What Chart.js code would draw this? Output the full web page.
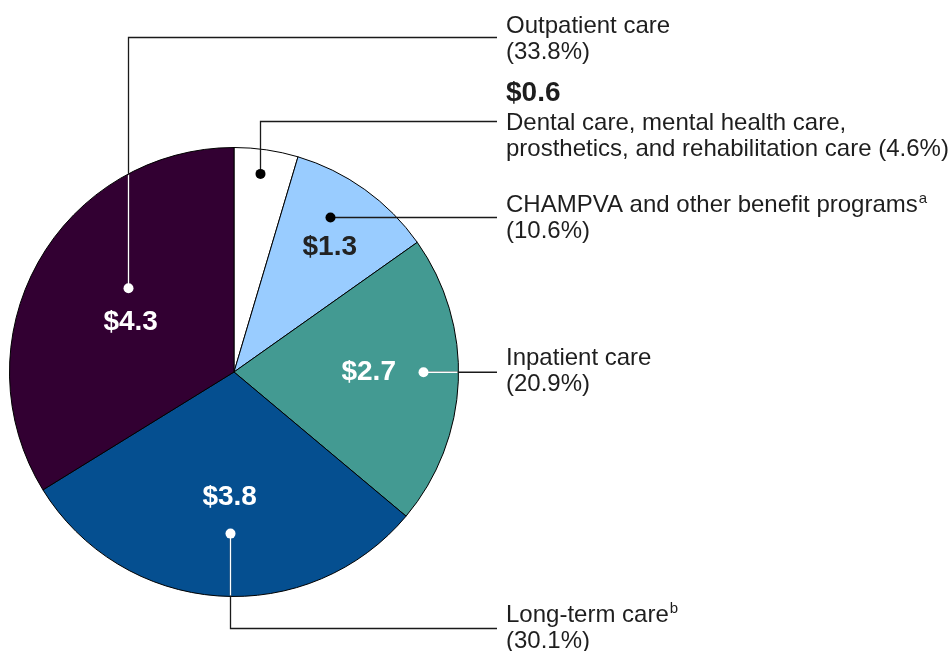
<!DOCTYPE html>
<html>
<head>
<meta charset="utf-8">
<script src="https://cdn.jsdelivr.net/npm/chart.js@4/dist/chart.umd.min.js"></script>
<style>
  html, body { margin: 0; padding: 0; background: #ffffff; }
  #wrap { width: 951px; height: 651px; position: relative; }
</style>
</head>
<body>
<div id="wrap"><canvas id="pieChart" width="951" height="651"></canvas></div>
<script>
// data, clockwise from 12 o'clock
const categories = [
    'Dental care, mental health care, prosthetics, and rehabilitation care',
    'CHAMPVA and other benefit programs',
    'Inpatient care',
    'Long-term care',
    'Outpatient care'
];
const dollars = [0.6, 1.3, 2.7, 3.8, 4.3];
const percents = [4.6, 10.6, 20.9, 30.1, 33.8];
const sliceColors = ['#ffffff', '#99ccff', '#439a92', '#054f90', '#320032'];

// label text blocks on the right
const labelLines = [
    ['Dental care, mental health care,', 'prosthetics, and rehabilitation care (4.6%)'],
    ['CHAMPVA and other benefit programs', '(10.6%)'],
    ['Inpatient care', '(20.9%)'],
    ['Long-term care', '(30.1%)'],
    ['Outpatient care', '(33.8%)']
];
const footnoteMarks = ['', 'a', '', 'b', ''];

(function () {
    const textColor = '#1e1e1e';
    const lineEndX = 497;
    const textX = 506;
    const labelFont = '24px "Liberation Sans", Arial, sans-serif';
    const valueFont = 'bold 28px "Liberation Sans", Arial, sans-serif';

    // where each leader dot / value label sits in its slice (fraction of angle, fraction of radius)
    const anchors = [
        { t: 0.45, r: 0.89, dark: false, route: 'up',   lineY: 121, textY: 130, value: 'outside' },
        { t: 0.40, r: 0.81, dark: false, route: 'h',    textY: 212, vt: 0.55, vr: 0.70 },
        { t: 0.47, r: 0.84, dark: true,  route: 'h',    textY: 365, vt: 0.47, vr: 0.60 },
        { t: 0.475, r: 0.72, dark: true, route: 'down', lineY: 628, textY: 622, vt: 0.48, vr: 0.56 },
        { t: 0.576, r: 0.60, dark: true, route: 'up',   lineY: 37,  textY: 33,  vt: 0.47, vr: 0.51 }
    ];

    function pointOn(arc, t, rf) {
        const a = arc.startAngle + t * (arc.endAngle - arc.startAngle);
        return { x: arc.x + Math.cos(a) * arc.outerRadius * rf, y: arc.y + Math.sin(a) * arc.outerRadius * rf };
    }

    const calloutPlugin = {
        id: 'callouts',
        afterDatasetsDraw(chart) {
            const ctx = chart.ctx;
            const meta = chart.getDatasetMeta(0);
            ctx.save();
            meta.data.forEach(function (el, i) {
                const arc = el.getProps(['x', 'y', 'startAngle', 'endAngle', 'outerRadius'], true);
                const an = anchors[i];
                const dot = pointOn(arc, an.t, an.r);
                dot.x = Math.round(dot.x) + 0.5;

                // leader path
                const pts = [[dot.x, dot.y]];
                if (an.route === 'h') {
                    pts.push([lineEndX, dot.y]);
                } else {
                    pts.push([dot.x, an.lineY + 0.5]);
                    pts.push([lineEndX, an.lineY + 0.5]);
                }
                function stroke(color) {
                    ctx.beginPath();
                    ctx.moveTo(pts[0][0], pts[0][1]);
                    for (let k = 1; k < pts.length; k++) ctx.lineTo(pts[k][0], pts[k][1]);
                    ctx.strokeStyle = color;
                    ctx.lineWidth = 1.3;
                    ctx.stroke();
                }
                stroke('#1a1a1a');
                // part inside the pie drawn white on dark slices
                if (an.dark) {
                    ctx.save();
                    ctx.beginPath();
                    ctx.arc(arc.x, arc.y, arc.outerRadius - 1, 0, Math.PI * 2);
                    ctx.clip();
                    stroke('#ffffff');
                    ctx.restore();
                }
                ctx.beginPath();
                ctx.arc(dot.x, dot.y, 5, 0, Math.PI * 2);
                ctx.fillStyle = an.dark ? '#ffffff' : '#000000';
                ctx.fill();

                // value label
                ctx.font = valueFont;
                if (an.value === 'outside') {
                    ctx.textAlign = 'left';
                    ctx.textBaseline = 'alphabetic';
                    ctx.fillStyle = textColor;
                    ctx.fillText('$' + dollars[i].toFixed(1), textX, 101);
                } else {
                    const vp = pointOn(arc, an.vt, an.vr);
                    ctx.textAlign = 'center';
                    ctx.textBaseline = 'middle';
                    ctx.fillStyle = an.dark ? '#ffffff' : '#222222';
                    ctx.fillText('$' + dollars[i].toFixed(1), vp.x, vp.y);
                }

                // category text
                ctx.textAlign = 'left';
                ctx.textBaseline = 'alphabetic';
                ctx.fillStyle = textColor;
                labelLines[i].forEach(function (line, k) {
                    const y = an.textY + k * 25.5;
                    ctx.font = labelFont;
                    ctx.fillText(line, textX, y);
                    if (k === 0 && footnoteMarks[i]) {
                        const w = ctx.measureText(line).width;
                        ctx.font = '15px "Liberation Sans", Arial, sans-serif';
                        ctx.fillText(footnoteMarks[i], textX + w + 1, y - 9);
                    }
                });
            });
            ctx.restore();
        }
    };

    const ctx = document.getElementById('pieChart').getContext('2d');
    new Chart(ctx, {
        type: 'pie',
        data: {
            labels: categories,
            datasets: [{
                data: percents,
                backgroundColor: sliceColors,
                borderColor: '#000000',
                borderWidth: 1
            }]
        },
        options: {
            responsive: false,
            animation: false,
            layout: {
                padding: { left: 9, right: 492, top: 147, bottom: 54 }
            },
            plugins: {
                legend: { display: false },
                tooltip: { enabled: false }
            }
        },
        plugins: [calloutPlugin]
    });
})();
</script>
</body>
</html>
